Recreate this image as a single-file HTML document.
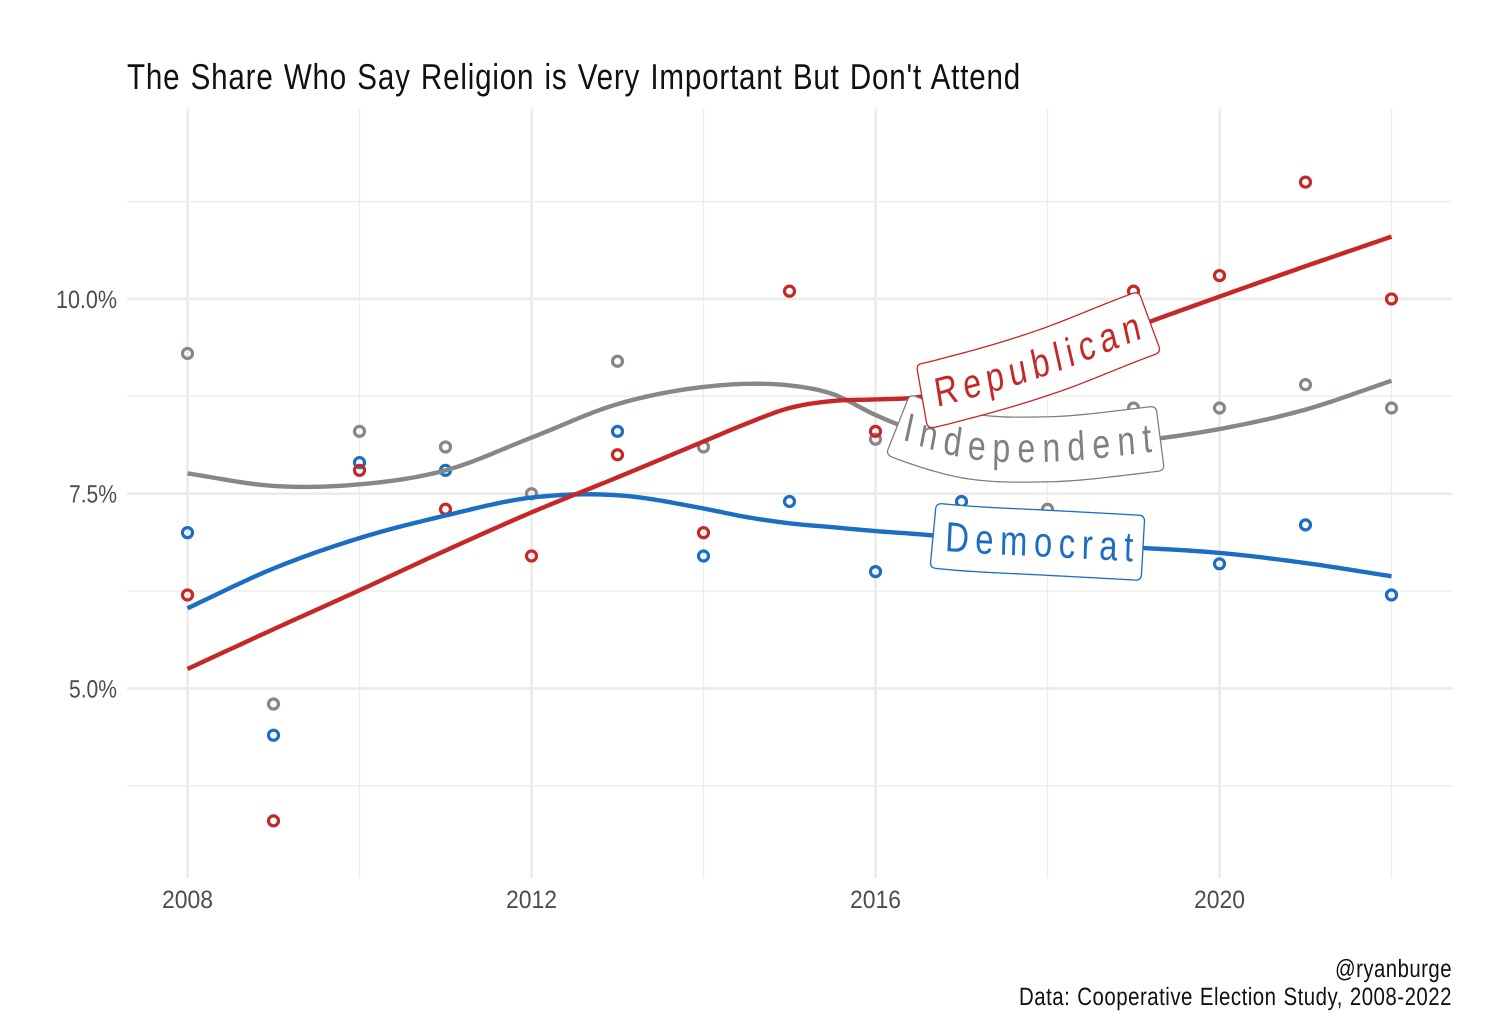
<!DOCTYPE html>
<html lang="en">
<head>
<meta charset="utf-8">
<title>The Share Who Say Religion is Very Important But Don't Attend</title>
<style>
html,body{margin:0;padding:0;background:#fff;}
svg{display:block;font-family:"Liberation Sans",sans-serif;text-rendering:geometricPrecision;}
</style>
</head>
<body>
<svg id="chart" width="1492" height="1034" viewBox="0 0 1492 1034" xmlns="http://www.w3.org/2000/svg">
  <rect x="0" y="0" width="1492" height="1034" fill="#ffffff"/>
  <text x="127" y="89" font-size="36" fill="#111" letter-spacing="1" word-spacing="1.5" textLength="894" lengthAdjust="spacingAndGlyphs">The Share Who Say Religion is Very Important But Don't Attend</text>
  <g id="grid"></g>
  <g id="axis-labels"></g>
  <g id="points"></g>
  <g id="lines"></g>
  <g id="labels"></g>
  <text x="1335" y="977" font-size="25" fill="#111" letter-spacing="0.6" textLength="117" lengthAdjust="spacingAndGlyphs">@ryanburge</text>
  <text x="1019" y="1005" font-size="25" fill="#111" letter-spacing="0.6" word-spacing="1" textLength="433" lengthAdjust="spacingAndGlyphs">Data: Cooperative Election Study, 2008-2022</text>
</svg>
<script>
const years = [2008,2009,2010,2011,2012,2013,2014,2015,2016,2017,2018,2019,2020,2021,2022];
const demPoints = [7.0,4.4,7.9,7.8,null,8.3,6.7,7.4,6.5,7.4,7.0,6.8,6.6,7.1,6.2];
const indPoints = [9.3,4.8,8.3,8.1,7.5,9.2,8.1,null,8.2,8.2,7.3,8.6,8.6,8.9,8.6];
const repPoints = [6.2,3.3,7.8,7.3,6.7,8.0,7.0,10.1,8.3,8.6,9.0,10.1,10.3,11.5,10.0];

const smoothYears = [2008,2009,2010,2011,2012,2013,2014,2014.5,2015,2015.5,2016,2016.5,2017,2018,2019,2020,2021,2022];
const demSmooth = [6.03,6.54,6.93,7.22,7.45,7.48,7.31,7.2,7.12,7.07,7.02,6.98,6.93,6.87,6.81,6.74,6.61,6.44];
const indSmooth = [7.76,7.6,7.62,7.8,8.22,8.65,8.87,8.91,8.89,8.78,8.51,8.29,8.13,8.07,8.17,8.33,8.58,8.95];
const repSmooth = [5.25,5.76,6.26,6.77,7.26,7.71,8.17,8.4,8.6,8.69,8.71,8.74,8.87,9.2,9.63,10.03,10.42,10.8];

const xMajorTicks = [2008,2012,2016,2020];
const xMinorTicks = [2010,2014,2018,2022];
const yMajorTicks = [5,7.5,10];
const yMinorTicks = [3.75,6.25,8.75,11.25];
const yTickLabels = ["5.0%","7.5%","10.0%"];

const panel = {left:127,right:1452,top:109,bottom:878};
const SVGNS = "http://www.w3.org/2000/svg";
function xScale(v){return 187.5 + (v-2008)*86;}
function yScale(v){return 493.7 - (v-7.5)*77.9;}

function make(tag, attrs, parent){
  const el = document.createElementNS(SVGNS, tag);
  for(const k in attrs){el.setAttribute(k, attrs[k]);}
  parent.appendChild(el);
  return el;
}

/* Hermite interpolation through the read-off trend values */
function slopes(xs, ys){
  const m = [];
  for(let i=0;i<xs.length;i++){
    if(i===0){m.push((ys[1]-ys[0])/(xs[1]-xs[0]));}
    else if(i===xs.length-1){m.push((ys[i]-ys[i-1])/(xs[i]-xs[i-1]));}
    else{
      const a=(ys[i]-ys[i-1])/(xs[i]-xs[i-1]);
      const b=(ys[i+1]-ys[i])/(xs[i+1]-xs[i]);
      const ha=xs[i]-xs[i-1], hb=xs[i+1]-xs[i];
      m.push((a*hb+b*ha)/(ha+hb));
    }
  }
  return m;
}
function interp(xs, ys, x){
  const m = slopes(xs, ys);
  let i = 0;
  while(i < xs.length-2 && x > xs[i+1]){i++;}
  const h = xs[i+1]-xs[i], t = (x-xs[i])/h;
  const t2=t*t, t3=t2*t;
  return (2*t3-3*t2+1)*ys[i] + (t3-2*t2+t)*h*m[i] + (-2*t3+3*t2)*ys[i+1] + (t3-t2)*h*m[i+1];
}

/* Grid */
const grid = document.getElementById("grid");
yMinorTicks.forEach(function(v){
  const l = make("line",{x1:panel.left,x2:panel.right,y1:yScale(v),y2:yScale(v),stroke:"#ededed","stroke-width":1.4},grid);
  
  
});
xMinorTicks.forEach(function(v){
  const l = make("line",{x1:xScale(v),x2:xScale(v),y1:panel.top,y2:panel.bottom,stroke:"#ededed","stroke-width":1.4},grid);
  
  
});
yMajorTicks.forEach(function(v){
  const l = make("line",{x1:panel.left,x2:panel.right,y1:yScale(v),y2:yScale(v),stroke:"#ebebeb","stroke-width":2.6},grid);
  
  
});
xMajorTicks.forEach(function(v){
  const l = make("line",{x1:xScale(v),x2:xScale(v),y1:panel.top,y2:panel.bottom,stroke:"#ebebeb","stroke-width":2.6},grid);
  
  
});

/* Tick labels */
const axisLabels = document.getElementById("axis-labels");
xMajorTicks.forEach(function(v){
  const t = make("text",{x:xScale(v),y:908,"font-size":25,fill:"#4d4d4d","text-anchor":"middle",textLength:51,lengthAdjust:"spacingAndGlyphs"},axisLabels);
  
  
  t.textContent = String(v);
});
yMajorTicks.forEach(function(v,i){
  const label = yTickLabels[i];
  const t = make("text",{x:117,y:yScale(v)+9,"font-size":25,fill:"#4d4d4d","text-anchor":"end",textLength:label.length>4?61:48,lengthAdjust:"spacingAndGlyphs"},axisLabels);
  
  
  t.textContent = label;
});

/* Series */
const demColor = "#1b6ec2", indColor = "#858886", repColor = "#c62828";
const pointsGroup = document.getElementById("points");
function drawPoints(values, color){
  values.forEach(function(v,i){
    if(v === null){return;}
    const c = make("circle",{cx:xScale(years[i]),cy:yScale(v),r:5,fill:"none",stroke:color,"stroke-width":3.2},pointsGroup);
    
    
  });
}
drawPoints(indPoints, indColor);
drawPoints(demPoints, demColor);
drawPoints(repPoints, repColor);

const linesGroup = document.getElementById("lines");
function drawLine(values, color){
  let d = "";
  const start = smoothYears[0], end = smoothYears[smoothYears.length-1];
  for(let x=start; x<=end+1e-6; x+=0.05){
    d += (d?"L":"M") + xScale(x).toFixed(2) + " " + yScale(interp(smoothYears,values,x)).toFixed(2);
  }
  const p = make("path",{d:d,fill:"none",stroke:color,"stroke-width":4.4},linesGroup);
  
  
}
drawLine(demSmooth, demColor);
drawLine(indSmooth, indColor);
drawLine(repSmooth, repColor);

/* Curved series labels that follow their trend line */
const labelsGroup = document.getElementById("labels");
const glyphSquash = 0.78;
function offsetPoint(values, yr, off){
  const dx = 0.02;
  const px = xScale(yr), py = yScale(interp(smoothYears,values,yr));
  const qx = xScale(yr+dx), qy = yScale(interp(smoothYears,values,yr+dx));
  const ux = qx-px, uy = qy-py, len = Math.hypot(ux,uy);
  return [px - uy/len*off, py + ux/len*off];
}
function fmt(p){return p[0].toFixed(2)+" "+p[1].toFixed(2);}
function drawLabel(name, values, color, y0, y1, textYears, baseline, fontSize){
  const h = 32.5, rYr = 6/86;
  let d = "M"+fmt(offsetPoint(values,y0+rYr,-h));
  const steps = 60;
  for(let i=1;i<=steps;i++){
    const yr = y0+rYr + (y1-y0-2*rYr)*i/steps;
    d += "L"+fmt(offsetPoint(values,yr,-h));
  }
  d += "Q"+fmt(offsetPoint(values,y1,-h))+" "+fmt(offsetPoint(values,y1,-h+6));
  d += "L"+fmt(offsetPoint(values,y1,h-6));
  d += "Q"+fmt(offsetPoint(values,y1,h))+" "+fmt(offsetPoint(values,y1-rYr,h));
  for(let i=steps-1;i>=0;i--){
    const yr = y0+rYr + (y1-y0-2*rYr)*i/steps;
    d += "L"+fmt(offsetPoint(values,yr,h));
  }
  d += "Q"+fmt(offsetPoint(values,y0,h))+" "+fmt(offsetPoint(values,y0,h-6));
  d += "L"+fmt(offsetPoint(values,y0,-h+6));
  d += "Q"+fmt(offsetPoint(values,y0,-h))+" "+fmt(offsetPoint(values,y0+rYr,-h))+"Z";

  const g = make("g",{},labelsGroup);
  
  
  const box = make("path",{d:d,fill:"#fff",stroke:color,"stroke-width":1.3,"stroke-linejoin":"round"},g);
  
  

  /* text path in a horizontally stretched space; the group squashes it back */
  const inner = make("g",{transform:"scale("+glyphSquash+",1)"},g);
  let tp = "";
  for(let i=0;i<=steps;i++){
    const yr = textYears[0] + (textYears[1]-textYears[0])*i/steps;
    const p = offsetPoint(values,yr,baseline);
    tp += (i?"L":"M")+(p[0]/glyphSquash).toFixed(2)+" "+p[1].toFixed(2);
  }
  const pid = name+"-text-path";
  const pathEl = make("path",{id:pid,d:tp,fill:"none",stroke:"none"},inner);
  
  
  const word = name.charAt(0).toUpperCase()+name.slice(1);
  const probe = make("text",{"font-size":fontSize,x:0,y:-100},inner);
  probe.textContent = word;
  const natural = probe.getComputedTextLength();
  inner.removeChild(probe);
  const spacing = (pathEl.getTotalLength()-natural)/(word.length-1);
  const t = make("text",{"font-size":fontSize,fill:color,"letter-spacing":spacing.toFixed(3)},inner);
  
  
  const tpath = make("textPath",{href:"#"+pid},t);
  tpath.textContent = word;
}
drawLabel("independent", indSmooth, "#808080", 2016.26, 2019.31, [2016.36,2019.2], 12.5, 41);
drawLabel("republican", repSmooth, repColor, 2016.54, 2019.19, [2016.68,2019.05], 13, 41);
drawLabel("democrat", demSmooth, demColor, 2016.67, 2019.11, [2016.82,2019.0], 14, 42);
</script>
</body>
</html>
